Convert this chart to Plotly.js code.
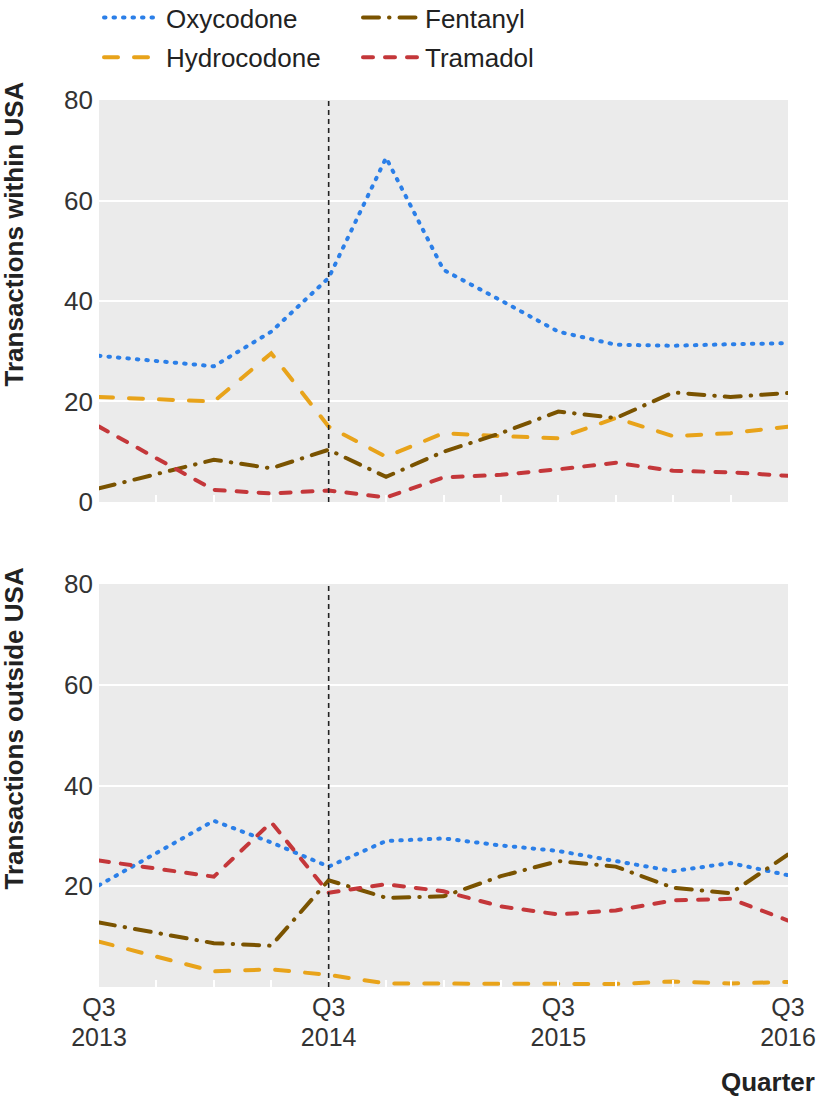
<!DOCTYPE html>
<html>
<head>
<meta charset="utf-8">
<script src="https://cdn.plot.ly/plotly-3.0.1.min.js"></script>
<style>html,body{margin:0;padding:0;background:#fff;}</style>
</head>
<body>
<div id="chart" style="width:824px;height:1100px;"></div>
<script>
// Quarters from Q3 2013 to Q3 2016 (index 0..12)
const quarters = ["Q3 2013","Q4 2013","Q1 2014","Q2 2014","Q3 2014","Q4 2014","Q1 2015","Q2 2015","Q3 2015","Q4 2015","Q1 2016","Q2 2016","Q3 2016"];
const tickQuarters = ["Q3 2013","Q3 2014","Q3 2015","Q3 2016"];
const tickQuarterText = ["Q3","Q3","Q3","Q3"];
const tickYearText = ["2013","2014","2015","2016"];
const markerQuarter = "Q3 2014";

// Transactions within USA
const withinOxycodone   = [29.1, null, 27.0, 33.9, 44.6, 68.5, 46.2, 40.1, 33.9, 31.3, 31.1, 31.4, 31.6];
const withinFentanyl    = [2.7,  null, 8.4,  6.7, 10.4,  5.0, 10.0, 13.7, 18.0, 16.7, 21.8, 20.9, 21.7];
const withinHydrocodone = [20.9, null, 20.0, 29.6, 15.0,  9.0, 13.7, 13.1, 12.7, 16.7, 13.1, 13.7, 15.0];
const withinTramadol    = [15.0, null, 2.4,  1.7,  2.3,  0.9,  4.9,  5.4,  6.5,  7.8,  6.2,  5.9,  5.2];

// Transactions outside USA
const outsideOxycodone   = [20.2, null, 33.0, 28.7, 23.9, 29.0, 29.5, 28.1, 27.0, 25.0, 23.0, 24.6, 22.2];
const outsideFentanyl    = [12.8, null, 8.7,  8.2, 21.2, 17.7, 18.0, 22.0, 25.0, 23.9, 19.7, 18.6, 26.3];
const outsideHydrocodone = [9.0,  null, 3.1,  3.5,  2.4,  0.7,  0.7,  0.7,  0.7,  0.6,  1.1,  0.7,  1.0];
const outsideTramadol    = [25.1, null, 21.9, 32.7, 18.7, 20.4, 19.0, 16.0, 14.4, 15.2, 17.2, 17.5, 13.2];

const seriesNames = ["Oxycodone","Hydrocodone","Fentanyl","Tramadol"];
const legendColumn = {Oxycodone:'legend', Hydrocodone:'legend', Fentanyl:'legend2', Tramadol:'legend2'};

const FONT = '"Liberation Sans", Arial, sans-serif';
const styles = {
  Oxycodone:   {color:"#2B7FE8", dash:"1.5px,8px"},
  Fentanyl:    {color:"#7A5300", dash:"16px,10px,0.5px,10px"},
  Hydrocodone: {color:"#E8A31A", dash:"14px,16px"},
  Tramadol:    {color:"#C4373A", dash:"10px,12px"}
};
const LW = 4;

const xIdx = quarters.map((q,i)=>i);
const within = {Oxycodone:withinOxycodone, Fentanyl:withinFentanyl, Hydrocodone:withinHydrocodone, Tramadol:withinTramadol};
const outside = {Oxycodone:outsideOxycodone, Fentanyl:outsideFentanyl, Hydrocodone:outsideHydrocodone, Tramadol:outsideTramadol};

const traces = [];
seriesNames.forEach(n => {
  traces.push({x:xIdx, y:within[n], xaxis:'x2', yaxis:'y2', type:'scatter', mode:'lines', name:n,
    legend:legendColumn[n], legendgroup:n, showlegend:true, connectgaps:true, hoverinfo:'skip',
    line:{color:styles[n].color, width:LW, dash:styles[n].dash}});
});
seriesNames.forEach(n => {
  traces.push({x:xIdx, y:outside[n], xaxis:'x', yaxis:'y', type:'scatter', mode:'lines', name:n,
    legend:legendColumn[n], legendgroup:n, showlegend:false, connectgaps:true, hoverinfo:'skip',
    line:{color:styles[n].color, width:LW, dash:styles[n].dash}});
});
// carrier for the year-label axis
traces.push({x:[], y:[], xaxis:'x3', yaxis:'y', type:'scatter', mode:'lines', showlegend:false, hoverinfo:'skip'});

const tickvals = tickQuarters.map(q => quarters.indexOf(q));
const mIdx = quarters.indexOf(markerQuarter);
const tickFont = {family:FONT, size:26, color:'#333333'};
const xTickFont = {family:FONT, size:25, color:'#333333'};

const xBase = {
  range:[0, quarters.length-1], tickvals:tickvals, ticktext:tickQuarterText,
  ticks:'inside', ticklen:7, tickwidth:2, tickcolor:'#ffffff',
  minor:{dtick:1, tick0:0, ticks:'inside', ticklen:7, tickwidth:2, tickcolor:'#ffffff', showgrid:false},
  showgrid:false, zeroline:false, showline:false,
  tickfont:xTickFont, fixedrange:true
};
const yBase = {
  range:[0,80], showgrid:true, gridcolor:'#ffffff', gridwidth:2, zeroline:false, showline:false,
  ticks:'', ticklabelstandoff:5, tickfont:tickFont, fixedrange:true
};
const legBase = {orientation:'v', xref:'container', yref:'paper', xanchor:'left', yanchor:'top',
  traceorder:'grouped', tracegroupgap:3, itemwidth:57,
  font:{family:FONT, size:26, color:'#222222'}, bgcolor:'rgba(0,0,0,0)', borderwidth:0};

const layout = {
  width:824, height:1100,
  margin:{l:99, r:36, t:100, b:113, autoexpand:false},
  paper_bgcolor:'#ffffff', plot_bgcolor:'#EBEBEB',
  font:{family:FONT, color:'#333333'},
  showlegend:true,
  legend: Object.assign({}, legBase, {x:99/824, y:1.1195}),
  legend2: Object.assign({}, legBase, {x:358/824, y:1.1195}),
  xaxis: Object.assign({}, xBase, {anchor:'y', domain:[0,1], ticklabelstandoff:3}),
  xaxis2: Object.assign({}, xBase, {anchor:'y2', domain:[0,1], matches:'x', showticklabels:false}),
  xaxis3: {overlaying:'x', anchor:'y', side:'bottom', range:[0, quarters.length-1], tickvals:tickvals, ticktext:tickYearText,
    ticks:'', showgrid:false, zeroline:false, showline:false, tickfont:xTickFont, ticklabelstandoff:33, fixedrange:true},
  yaxis: Object.assign({}, yBase, {anchor:'x', domain:[0,0.4543], tickvals:[20,40,60,80]}),
  yaxis2: Object.assign({}, yBase, {anchor:'x2', domain:[0.5468,1], tickvals:[0,20,40,60,80]}),
  shapes:[
    {type:'line', xref:'x2', yref:'y2 domain', x0:mIdx, x1:mIdx, y0:0, y1:1, line:{color:'#222222', width:1.6, dash:'5px,4px'}, layer:'above'},
    {type:'line', xref:'x', yref:'y domain', x0:mIdx, x1:mIdx, y0:0, y1:1, line:{color:'#222222', width:1.6, dash:'5px,4px'}, layer:'above'}
  ],
  annotations:[
    {text:'<b>Transactions within USA</b>', textangle:-90, xref:'paper', yref:'paper', x:0, xshift:-85, y:0.8484,
      xanchor:'center', yanchor:'middle', showarrow:false, font:{family:FONT, size:26, color:'#222222'}},
    {text:'<b>Transactions outside USA</b>', textangle:-90, xref:'paper', yref:'paper', x:0, xshift:-85, y:0.2914,
      xanchor:'center', yanchor:'middle', showarrow:false, font:{family:FONT, size:26, color:'#222222'}},
    {text:'<b>Quarter</b>', xref:'paper', yref:'paper', x:1.0421, y:-0.1071, xanchor:'right', yanchor:'middle',
      showarrow:false, font:{family:FONT, size:26, color:'#222222'}}
  ]
};

Plotly.newPlot('chart', traces, layout, {staticPlot:true, displayModeBar:false}).then(gd => {
  gd.querySelectorAll('path.js-line').forEach(p => { p.style.strokeLinecap = 'round'; });
});
</script>
</body>
</html>
